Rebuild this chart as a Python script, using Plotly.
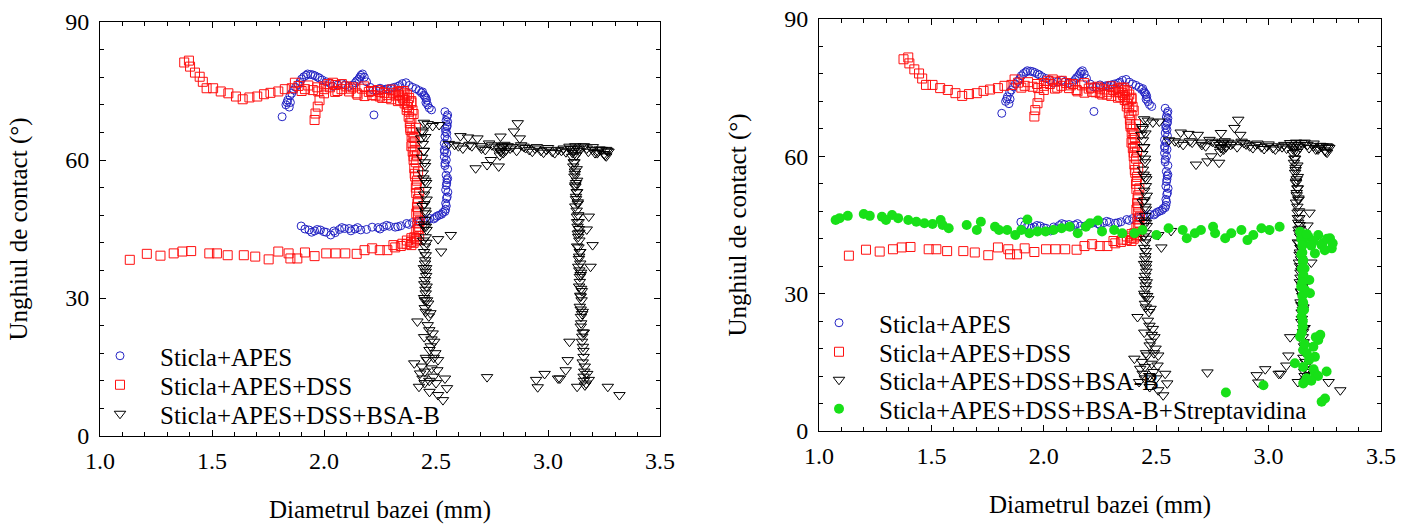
import plotly.graph_objects as go

# ---------------- data ----------------
# Sticla+APES (blue open circles)
apes_x = [1.898, 1.933, 1.958, 1.984, 2.010, 2.030, 2.044, 2.069, 2.092, 2.112, 2.138, 2.164,
          2.215, 2.241, 2.266, 2.292, 2.318, 2.343, 2.369, 2.395, 2.420, 2.446, 2.472, 2.497,
          2.514, 2.531, 2.543, 2.543, 2.547, 2.543, 2.549, 2.545, 2.540, 2.537, 2.537, 2.537,
          2.540, 2.543, 2.549, 2.552, 2.549, 2.540, 2.463, 2.458, 2.446, 2.424, 2.395, 2.366,
          2.338, 2.314, 2.287, 2.263, 2.232, 2.206, 2.172, 2.160, 2.146, 2.129, 2.095, 2.061,
          2.027, 1.992, 1.972, 1.950, 1.927, 1.910, 1.893, 1.873, 1.856, 1.838, 1.830, 1.813,
          2.223, 2.440, 2.455, 2.470, 2.480, 1.845, 1.850, 2.550, 2.548, 2.552, 2.546,
          2.552, 2.545, 2.550, 2.542, 2.548, 2.544, 2.538, 2.546, 2.540, 2.552, 2.548, 2.553,
          2.550, 2.546, 2.540, 2.525, 2.505, 2.490, 2.460, 2.430, 2.380, 2.330, 2.280, 2.250,
          2.190, 2.150, 2.120, 2.080, 2.050, 2.000, 1.970, 1.945, 1.915,
          2.455, 2.450, 2.435, 2.410, 2.380, 2.350, 2.330, 2.300, 2.275, 2.250, 2.220, 2.190,
          2.180, 2.165, 2.155, 2.140, 2.110, 2.080, 2.040, 2.010, 1.980, 1.960, 1.940, 1.920,
          1.900, 1.885, 1.865, 1.848, 1.835]
apes_y = [45.65, 44.78, 44.57, 44.78, 44.28, 43.7, 44.57, 44.9, 45.1, 45.1, 45.0, 44.8,
          45.4, 45.3, 45.5, 45.6, 45.4, 45.7, 46.2, 46.4, 46.7, 47.0, 47.3, 47.5,
          48.0, 48.6, 49.3, 50.6, 51.7, 53.5, 55.7, 56.7, 59.3, 60.7, 62.2, 63.6,
          65.1, 66.2, 67.2, 68.3, 69.4, 70.5, 71.96, 73.0, 74.1, 75.1, 75.8, 76.8,
          76.2, 75.8, 75.5, 75.2, 75.2, 75.8, 78.7, 78.0, 77.2, 76.3, 76.3, 76.3,
          76.7, 77.4, 78.0, 78.5, 78.7, 78.1, 77.0, 75.8, 74.5, 73.0, 72.0, 69.4,
          69.8, 74.8, 73.5, 71.3, 70.9, 71.5, 72.5, 64.5, 61.5, 58.0, 54.5,
          69.8, 68.6, 67.5, 66.8, 65.8, 63.0, 61.8, 60.0, 58.8, 56.0, 55.0, 53.0,
          52.0, 50.0, 48.8, 48.2, 47.8, 47.2, 46.8, 46.5, 46.0, 45.5, 45.8, 45.0,
          44.9, 45.3, 44.6, 45.3, 44.2, 44.4, 44.9, 44.3, 45.0,
          72.5, 73.8, 74.6, 75.5, 76.2, 76.6, 76.0, 75.6, 75.4, 75.6, 75.2, 77.0,
          78.0, 78.4, 77.6, 76.8, 76.0, 76.6, 76.0, 77.0, 77.8, 78.3, 78.6, 78.4,
          77.6, 76.4, 75.2, 74.0, 72.5]

# Sticla+APES+DSS (red open squares)
dss_x = [1.133, 1.209, 1.270, 1.329, 1.368, 1.407, 1.488, 1.522, 1.570, 1.642, 1.693, 1.753,
         1.796, 1.842, 1.850, 1.881, 1.915, 1.958, 2.010, 2.052, 2.095, 2.146, 2.181, 2.215,
         2.249, 2.283, 2.318, 2.343, 2.369, 2.389, 2.403, 2.412, 2.417, 2.412, 2.417, 2.412,
         2.413, 2.407, 2.403, 2.400, 2.396, 2.395, 2.391, 2.386, 2.383, 2.378, 2.369, 2.360,
         2.352, 2.335, 2.309, 2.283, 2.249, 2.215, 2.181, 2.146, 2.112, 2.078, 2.052, 2.027,
         2.001, 1.975, 1.950, 1.915, 1.886, 1.856, 1.825, 1.796, 1.761, 1.732, 1.702, 1.667,
         1.637, 1.607, 1.573, 1.539, 1.505, 1.476, 1.459, 1.445, 1.424, 1.402, 1.376, 1.397,
         1.958, 1.962, 1.972, 1.980, 2.400, 2.410, 2.405, 2.415, 2.420, 2.425, 2.420, 2.425,
         2.415, 2.390, 2.375, 2.380, 2.360, 2.345, 2.330, 2.300, 2.270, 2.240, 2.200, 2.170,
         2.130, 2.100, 2.060, 2.040, 2.000, 1.970, 1.930, 1.900, 1.870, 2.300, 2.330, 2.360,
         2.390, 2.260, 2.230,
         2.370, 2.380, 2.390, 2.385, 2.395, 2.400, 2.390, 2.405, 2.400, 2.410, 2.405, 2.415,
         2.410, 2.420, 2.415, 2.420, 2.428, 2.420, 2.425, 2.410, 2.400, 2.350, 2.370, 2.390,
         2.395, 2.355, 2.340, 2.320, 2.280, 2.250, 2.210, 2.180, 2.150, 2.120, 2.080, 2.050,
         2.020, 2.000, 2.310, 2.350, 2.370, 2.390]
dss_y = [38.3, 39.6, 39.2, 39.7, 40.1, 40.2, 39.7, 39.7, 39.3, 39.3, 39.0, 38.4,
         40.1, 39.7, 38.6, 38.6, 39.9, 39.1, 39.7, 39.7, 39.7, 39.6, 40.4, 40.8,
         40.4, 40.4, 41.0, 41.3, 41.7, 42.2, 43.2, 44.4, 46.2, 48.4, 50.6, 52.8,
         54.6, 56.4, 58.2, 60.0, 61.8, 63.6, 65.1, 66.5, 68.0, 69.4, 70.9, 72.3,
         73.4, 74.1, 74.5, 74.1, 73.8, 74.1, 73.9, 74.5, 74.9, 75.4, 76.3, 75.8,
         75.4, 74.9, 75.2, 75.4, 76.1, 75.6, 75.4, 74.9, 74.6, 74.3, 73.8, 73.6,
         73.2, 73.8, 74.5, 74.9, 75.6, 75.6, 77.0, 78.1, 79.0, 80.3, 81.2, 81.6,
         68.7, 70.1, 71.6, 73.0, 70.0, 67.0, 64.0, 61.0, 57.5, 53.0, 49.0, 45.5,
         42.5, 41.5, 72.0, 73.5, 74.5, 75.0, 74.8, 75.3, 74.6, 75.2, 74.8, 75.5,
         75.8, 76.0, 75.0, 76.8, 76.0, 75.8, 76.2, 75.0, 76.8, 73.2, 72.8, 73.0,
         72.5, 73.5, 74.0,
         71.5, 70.5, 69.0, 67.0, 66.0, 64.8, 63.0, 62.2, 60.8, 59.5, 57.0, 55.5,
         54.0, 51.5, 49.8, 47.5, 46.8, 45.0, 43.5, 42.8, 42.0, 73.8, 74.2, 72.8,
         70.8, 75.0, 73.0, 74.0, 73.5, 74.8, 75.0, 76.0, 74.2, 75.5, 76.5, 74.8,
         76.5, 74.5, 41.5, 41.8, 42.5, 43.0]

# Sticla+APES+DSS+BSA-B (black open down-triangles)
bsa_x = [2.446, 2.463, 2.485, 2.514, 2.437, 2.434, 2.441, 2.451, 2.441, 2.454, 2.458, 2.448,
         2.454, 2.451, 2.458, 2.454, 2.451, 2.454, 2.451, 2.454, 2.451, 2.458, 2.454, 2.465,
         2.454, 2.475, 2.417, 2.463, 2.485, 2.492, 2.471, 2.497, 2.509, 2.403, 2.437, 2.480,
         2.506, 2.429, 2.489, 2.540, 2.424, 2.471, 2.549, 2.509, 2.531, 2.566, 2.509, 2.523,
         2.557, 2.583, 2.609, 2.643, 2.660, 2.685, 2.703, 2.737, 2.762, 2.788, 2.788, 2.805,
         2.831, 2.848, 2.865, 2.874, 2.891, 2.916, 2.942, 2.968, 2.993, 3.019, 3.045, 3.070,
         3.096, 3.122, 3.147, 3.173, 3.199, 3.224, 3.250, 3.259, 2.677, 2.728, 2.780, 2.745,
         2.790, 2.795, 2.800, 3.115, 3.125, 3.135, 3.210, 3.230, 3.255, 3.265,
         3.108, 3.113, 3.118, 3.122, 3.125, 3.122, 3.129, 3.132, 3.135, 3.130, 3.139, 3.135,
         3.142, 3.139, 3.146, 3.142, 3.147, 3.146, 3.153, 3.156, 3.159, 3.164, 3.159, 3.170,
         3.115, 3.120, 3.125, 3.128, 3.133, 3.137, 3.140, 3.144, 3.148, 3.151, 3.155, 3.160,
         3.182, 3.173, 3.199, 3.190, 3.096, 3.088, 3.079, 3.053, 2.985, 2.947, 2.954, 2.728,
         3.267, 3.319, 3.130, 3.182, 3.045, 3.165, 3.175,
         2.445, 2.452, 2.448, 2.456, 2.450, 2.447, 2.455, 2.449,
         2.440, 2.452, 2.446, 2.438, 2.450, 2.444, 2.456, 2.447, 2.440, 2.452, 2.446, 2.455,
         2.443, 2.457, 2.447, 2.452, 2.446, 2.456, 2.448, 2.453, 2.447, 2.460, 2.450, 2.468,
         2.470, 2.480, 2.476, 2.490, 2.460, 2.450, 2.470, 2.500, 2.440,
         3.110, 3.120, 3.125, 3.118, 3.128, 3.120, 3.130, 3.122, 3.130, 3.125, 3.133, 3.128,
         3.135, 3.130, 3.138, 3.133, 3.140, 3.136, 3.142, 3.138, 3.144, 3.140, 3.146, 3.142,
         3.148, 3.144, 3.150, 3.146, 3.152, 3.148, 3.155, 3.152, 3.158, 3.155, 3.162, 3.160,
         2.780, 2.785, 2.795, 2.810, 2.820, 2.840, 2.860, 2.880, 2.900, 2.930, 2.950, 2.980,
         3.000, 3.030, 3.060, 3.080, 3.100, 3.140, 3.160, 3.180, 3.200, 3.220, 3.240, 3.260,
         3.270, 2.600, 2.620, 2.650, 2.700, 2.720, 2.750]
bsa_y = [68.1, 67.8, 67.4, 67.6, 66.4, 64.7, 63.5, 58.7, 57.1, 53.5, 51.4, 50.4,
         48.4, 47.0, 44.8, 43.2, 41.2, 39.3, 37.5, 35.7, 33.9, 32.5, 31.0, 28.8,
         27.0, 26.7, 24.9, 24.1, 22.3, 20.5, 18.7, 18.0, 16.5, 15.8, 15.1, 14.7,
         14.3, 13.6, 12.9, 12.5, 10.7, 9.6, 10.4, 8.9, 7.8, 43.7, 42.8, 40.1,
         63.5, 63.3, 65.2, 64.9, 63.0, 64.7, 62.5, 63.6, 62.9, 61.8, 65.1, 63.3,
         62.5, 66.2, 68.0, 64.7, 62.9, 62.2, 62.5, 62.0, 62.2, 61.8, 62.2, 62.5,
         62.9, 63.0, 62.9, 62.5, 62.2, 61.8, 61.3, 62.2, 58.2, 58.9, 58.6, 60.0,
         62.0, 63.0, 61.5, 62.0, 61.0, 62.5, 61.5, 62.3, 61.0, 62.0,
         60.7, 58.6, 56.4, 54.2, 52.0, 49.9, 47.7, 45.5, 43.3, 41.2, 39.0, 36.8,
         34.6, 32.5, 30.3, 28.1, 25.9, 23.8, 21.6, 19.4, 17.2, 15.1, 12.9, 11.4,
         59.5, 57.5, 55.0, 53.0, 50.8, 46.5, 44.2, 40.0, 35.5, 31.5, 27.0, 22.5,
         47.7, 44.9, 41.5, 36.8, 20.5, 16.5, 14.3, 12.5, 13.5, 12.2, 10.6, 12.8,
         10.7, 8.9, 10.7, 12.2, 12.5, 11.0, 13.5,
         62.0, 55.5, 45.5, 36.5, 29.5, 21.5, 17.0, 11.5,
         66.0, 65.0, 62.0, 60.5, 59.5, 56.0, 55.0, 52.5, 50.0, 49.0, 46.0, 45.5,
         42.5, 42.0, 40.0, 38.2, 36.5, 34.8, 33.0, 31.8, 30.0, 29.5, 27.8, 26.0,
         23.0, 21.0, 19.5, 17.0, 16.5, 14.0, 12.0, 11.5, 12.5,
         61.5, 62.5, 61.0, 59.5, 58.0, 57.0, 55.5, 54.5, 53.0, 51.5, 50.5, 49.0,
         48.0, 46.5, 45.0, 44.0, 42.5, 41.0, 40.0, 38.5, 37.5, 36.0, 35.0, 33.5,
         32.0, 30.5, 29.5, 27.5, 26.5, 24.5, 22.5, 20.5, 18.5, 16.0, 14.0, 12.0,
         62.5, 61.0, 62.8, 62.0, 63.0, 62.8, 62.0, 63.2, 62.6, 61.8, 62.8, 61.6,
         62.6, 61.5, 62.0, 61.7, 62.4, 62.0, 63.0, 61.8, 62.8, 61.5, 62.2, 60.8,
         61.8, 63.0, 62.5, 63.3, 63.0, 62.2, 63.2]

# Sticla+APES+DSS+BSA-B+Streptavidina (green filled circles, right chart only)
strep_x = [1.074, 1.092, 1.128, 1.199, 1.226, 1.280, 1.298, 1.325, 1.352, 1.397, 1.433, 1.469,
           1.505, 1.541, 1.550, 1.577, 1.657, 1.702, 1.720, 1.783, 1.801, 1.837, 1.873, 1.900,
           1.927, 1.936, 1.972, 2.008, 2.043, 2.079, 2.115, 2.151, 2.187, 2.205, 2.241, 2.259,
           2.313, 2.349, 2.403, 2.439, 2.501, 2.555, 2.618, 2.636, 2.672, 2.699, 2.753, 2.762,
           2.807, 2.834, 2.879, 2.906, 2.932, 2.968, 3.004, 3.049,
           3.140, 3.154, 3.177, 3.221, 3.273, 3.281, 3.206, 3.236, 3.154, 3.152, 3.181, 3.184,
           3.162, 3.152, 3.147, 3.152, 3.140, 3.221, 3.199, 3.154, 3.206, 3.117, 3.154, 3.258,
           3.206, 3.169, 3.154, 2.977, 3.251, 3.236, 2.810, 3.150, 3.160, 3.145, 3.158,
           3.145, 3.150, 3.145, 3.152, 3.148, 3.155, 3.150, 3.156, 3.150, 3.154, 3.148, 3.152,
           3.148, 3.160, 3.170, 3.180, 3.200, 3.220, 3.190, 3.210, 3.230, 3.200, 3.240, 3.260,
           3.285, 3.250, 3.190, 3.170]
strep_y = [46.1, 46.5, 47.0, 47.4, 47.0, 46.8, 46.1, 47.2, 46.5, 46.1, 45.7, 45.4,
           45.2, 46.1, 45.0, 44.3, 45.0, 43.9, 45.7, 44.6, 43.9, 43.9, 42.8, 43.9,
           46.2, 43.2, 43.6, 43.6, 43.9, 44.3, 44.6, 43.2, 44.6, 45.4, 46.0, 43.6,
           43.9, 43.2, 43.2, 43.9, 42.8, 44.3, 43.9, 42.1, 43.2, 43.9, 44.6, 43.2,
           42.1, 43.2, 43.9, 41.7, 42.8, 44.3, 43.9, 44.6,
           43.5, 41.0, 42.4, 42.8, 42.1, 39.9, 38.8, 40.6, 37.3, 33.7, 33.0, 30.1,
           30.8, 27.9, 25.0, 22.8, 20.6, 19.9, 18.4, 17.7, 16.2, 14.8, 14.0, 13.0,
           12.6, 11.5, 10.4, 10.0, 7.1, 6.4, 8.4, 39.0, 35.5, 31.5, 26.5,
           42.0, 40.5, 38.5, 37.0, 35.5, 34.0, 32.5, 31.0, 29.5, 28.0, 26.5, 24.0,
           21.5, 19.0, 17.0, 15.5, 13.5, 12.0, 11.0, 20.5, 21.0, 41.5, 41.0, 42.0,
           41.0, 39.5, 40.5, 43.0]

x_ticks = [1.0, 1.5, 2.0, 2.5, 3.0, 3.5]
y_ticks = [0, 30, 60, 90]

names = ["Sticla+APES", "Sticla+APES+DSS", "Sticla+APES+DSS+BSA-B",
         "Sticla+APES+DSS+BSA-B+Streptavidina"]

# ---------------- figure ----------------
FONT = "Liberation Serif, Times New Roman, serif"
W, H = 1413, 524

styles = [
    dict(symbol="circle-open", size=8, color="#2424c4", line=dict(width=1)),
    dict(symbol="square-open", size=9, color="#ff1010", line=dict(width=1)),
    dict(symbol="triangle-down-open", size=10, color="#000000", line=dict(width=1)),
    dict(symbol="circle", size=10, color="#18e018", line=dict(width=0)),
]
series = [(apes_x, apes_y), (dss_x, dss_y), (bsa_x, bsa_y), (strep_x, strep_y)]

ML, MR, MT, MB = 100, 32, 19, 88
pw = W - ML - MR
ph = H - MT - MB

def dx(px):
    return (px - ML) / pw

def dy(py):
    return (H - MB - py) / ph

# legend rows: (left edge px, row centre px) for each entry of each panel
legend_rows = [
    [(80, 356), (80, 385), (80, 414)],
    [(799, 323), (799, 352), (799, 380), (799, 409)],
]

fig = go.Figure()
layout_legends = {}
k = 0
for panel, (xa, ya) in enumerate([("x", "y"), ("x2", "y2")]):
    n = 3 if panel == 0 else 4
    for i in range(n):
        k += 1
        lg = "legend" if k == 1 else f"legend{k}"
        sx, sy = series[i]
        fig.add_trace(go.Scatter(x=sx, y=sy, mode="markers", name=names[i],
                                 marker=styles[i], xaxis=xa, yaxis=ya, legend=lg))
        lx, ly = legend_rows[panel][i]
        layout_legends[lg] = dict(
            font=dict(family=FONT, size=25, color="black"), bgcolor="rgba(0,0,0,0)",
            borderwidth=0, xref="paper", yref="paper", xanchor="left", yanchor="middle",
            x=dx(lx), y=dy(ly), itemwidth=70)

common = dict(showline=True, linecolor="black", linewidth=1, mirror="ticks",
              ticks="inside", ticklen=6, tickcolor="black", showgrid=False,
              zeroline=False, automargin=False,
              tickfont=dict(family=FONT, size=24, color="black"))

xcommon = dict(common, range=[1.0, 3.5], tickvals=x_ticks, ticktext=[f"{v:.1f}" for v in x_ticks],
               tickangle=0,
               minor=dict(ticks="inside", ticklen=4, tickcolor="black", dtick=0.1, tick0=1.0),
               title=dict(text="Diametrul bazei (mm)", font=dict(family=FONT, size=25, color="black"),
                          standoff=27),
               ticklabelstandoff=3)
ycommon = dict(common, range=[0, 90], tickvals=y_ticks,
               minor=dict(ticks="inside", ticklen=4, tickcolor="black", dtick=6, tick0=0),
               title=dict(text="Unghiul de contact (°)", font=dict(family=FONT, size=25, color="black"),
                          standoff=30),
               ticklabelstandoff=5)

fig.update_layout(
    width=W, height=H,
    margin=dict(l=ML, r=MR, t=MT, b=MB, autoexpand=False),
    paper_bgcolor="white", plot_bgcolor="white",
    xaxis=dict(xcommon, domain=[dx(100), dx(660)], anchor="y"),
    yaxis=dict(ycommon, domain=[dy(436), dy(22)], anchor="x"),
    xaxis2=dict(xcommon, domain=[dx(819), dx(1381)], anchor="y2"),
    yaxis2=dict(ycommon, domain=[dy(431), dy(19)], anchor="x2"),
    showlegend=True,
    **layout_legends,
)

fig.write_html("out.html", config={"displayModeBar": False},
               post_script="document.body.style.margin='0';document.body.style.overflow='hidden';")
